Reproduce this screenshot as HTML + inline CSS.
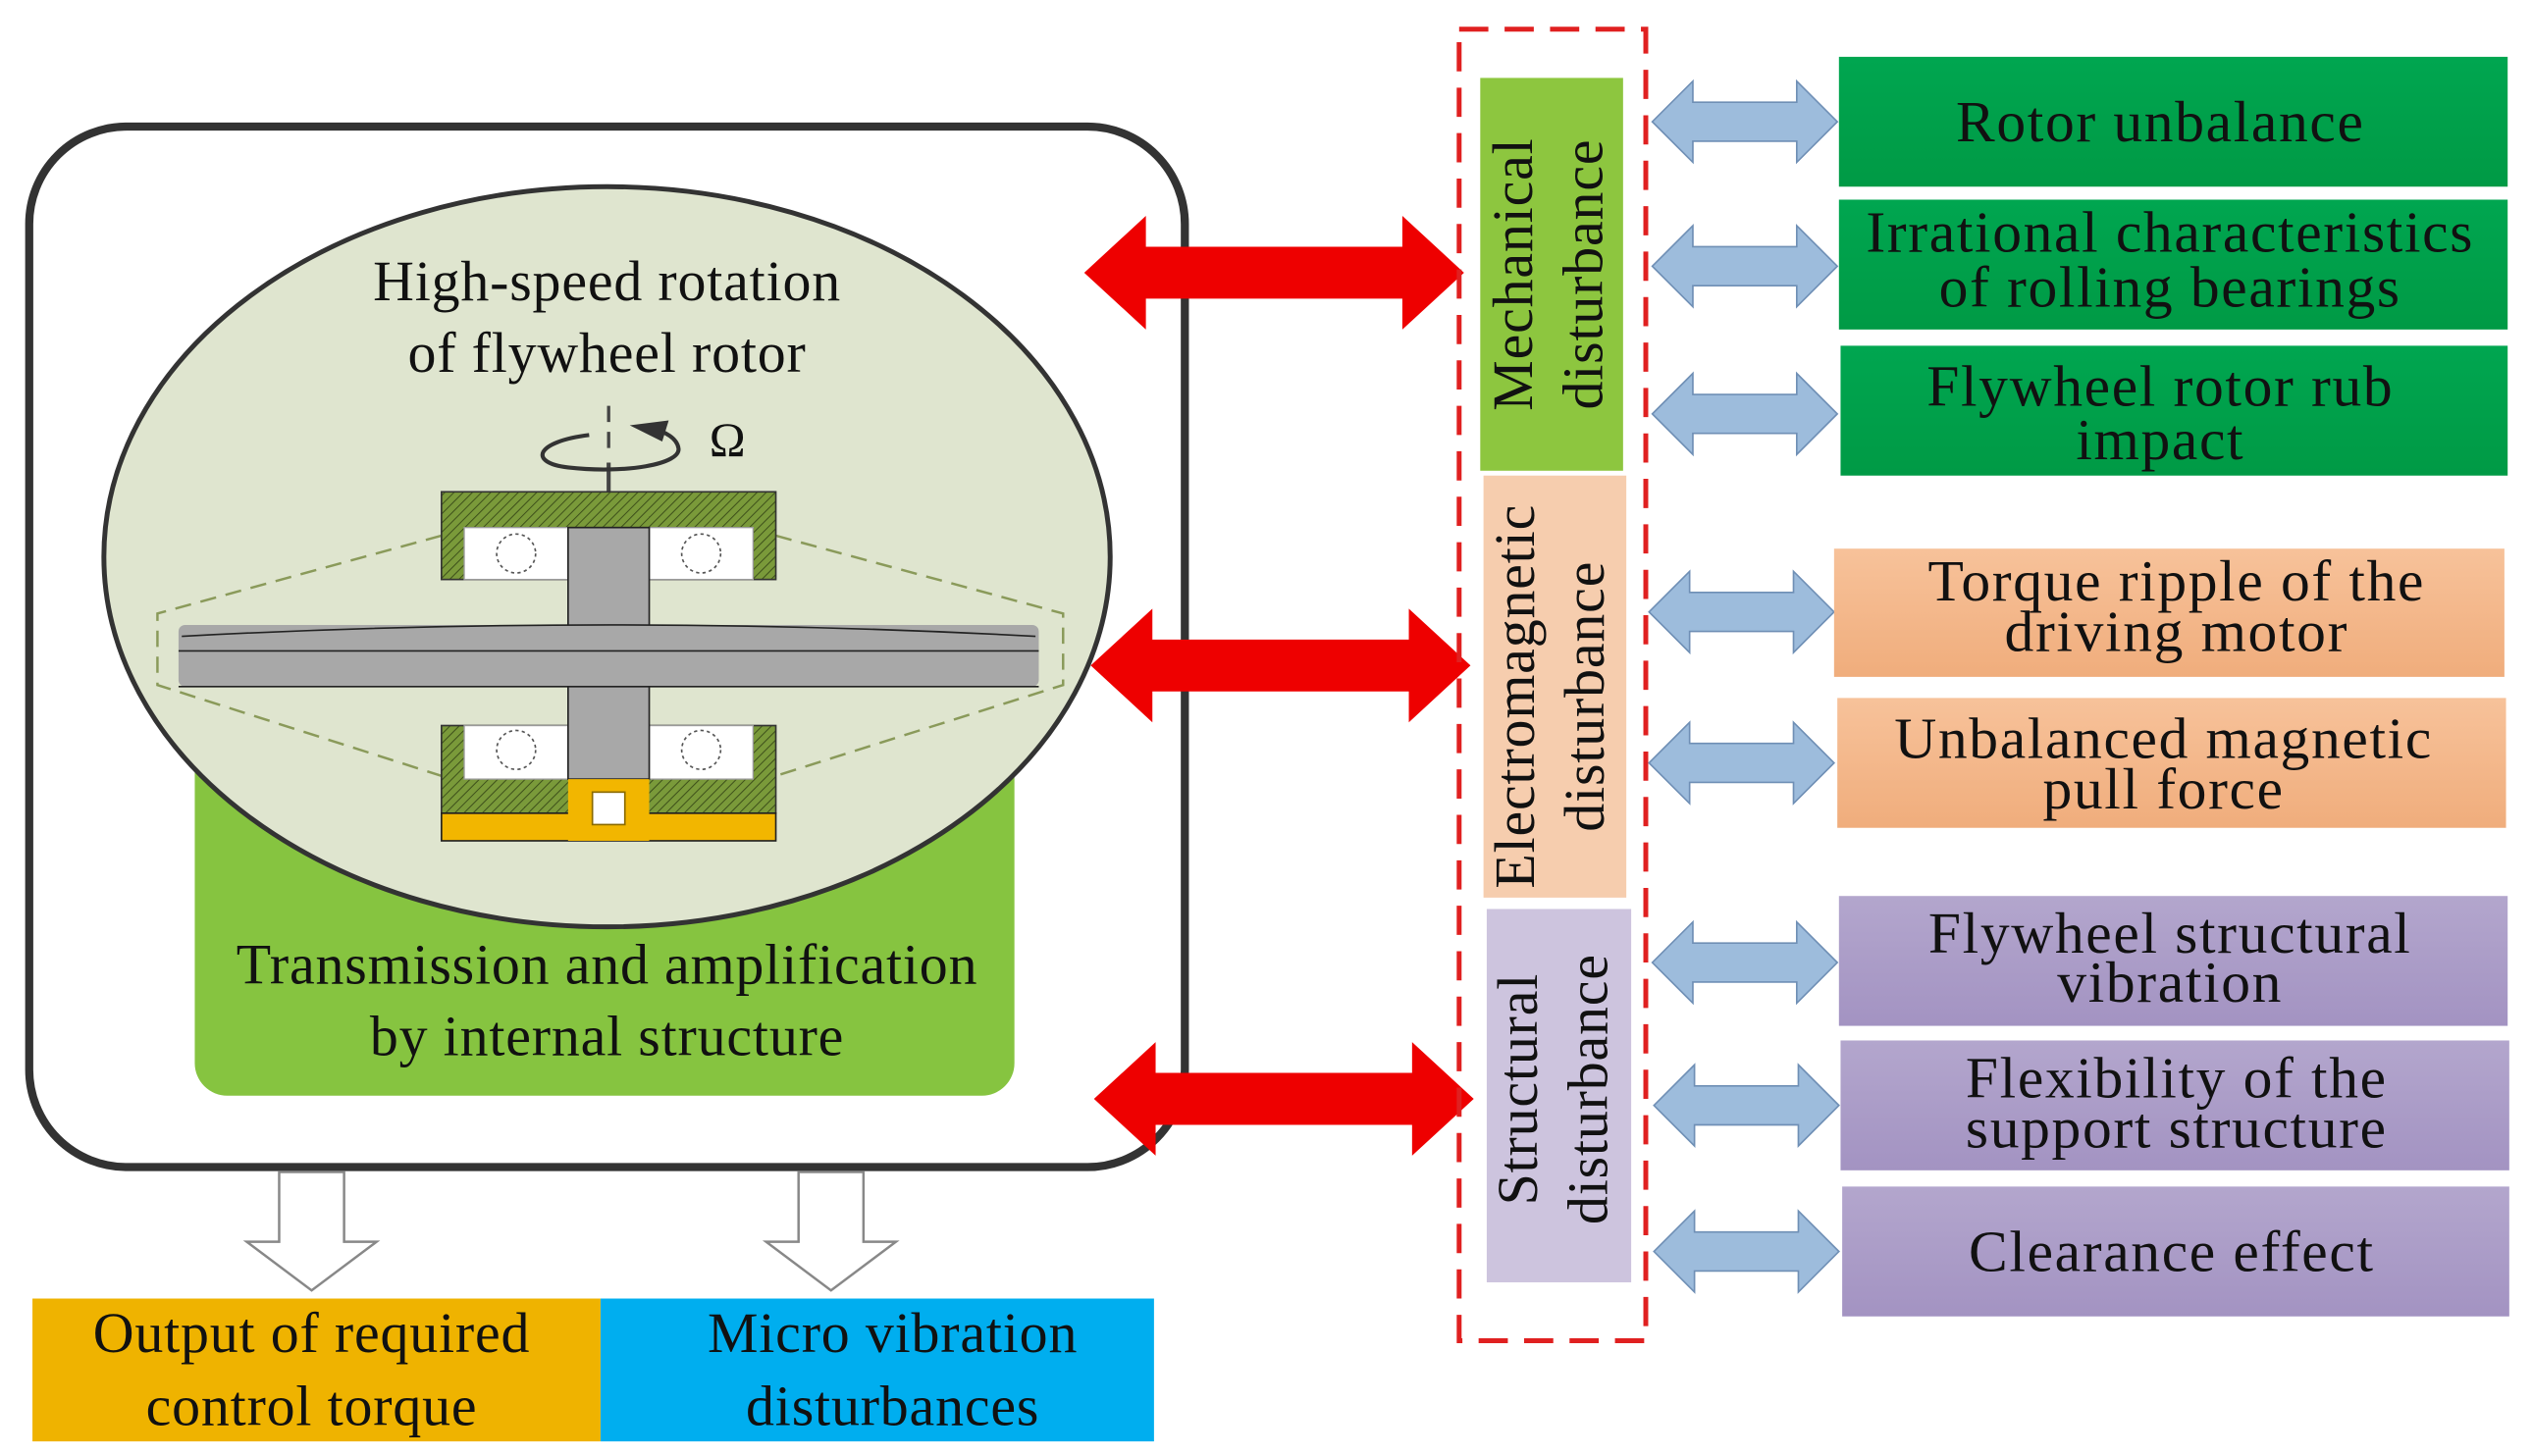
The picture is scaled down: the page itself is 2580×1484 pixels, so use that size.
<!DOCTYPE html>
<html><head><meta charset="utf-8"><style>
html,body{margin:0;padding:0;background:#fff;}
svg{display:block;}
text{font-family:"Liberation Serif","DejaVu Serif",serif;fill:#111;}
</style></head><body>
<svg width="2580" height="1484" viewBox="0 0 1560 897" preserveAspectRatio="none" xmlns="http://www.w3.org/2000/svg" font-family="Liberation Serif, serif">
<defs>
<pattern id="hatch" width="4" height="4" patternUnits="userSpaceOnUse" patternTransform="rotate(45)">
<rect width="4" height="4" fill="#7a9a3a"/><line x1="0" y1="0" x2="0" y2="4" stroke="#3d4f1a" stroke-width="1.2"/>
</pattern>
<linearGradient id="gg" x1="0" y1="0" x2="0" y2="1"><stop offset="0" stop-color="#00a650"/><stop offset="1" stop-color="#009a45"/></linearGradient>
<linearGradient id="og" x1="0" y1="0" x2="0" y2="1"><stop offset="0" stop-color="#f7c29a"/><stop offset="1" stop-color="#f0ad7c"/></linearGradient>
<linearGradient id="pg" x1="0" y1="0" x2="0" y2="1"><stop offset="0" stop-color="#b3a6cd"/><stop offset="1" stop-color="#a393c2"/></linearGradient>
<g id="barr"><path d="M0,0 L25,-25 L25,-12 L89,-12 L89,-25 L114,0 L89,25 L89,12 L25,12 L25,25 Z" fill="#9dbcdc" stroke="#6f8fb5" stroke-width="1"/></g>
<g id="rarr"><path d="M0,0 L38,-35 L38,-16 L196,-16 L196,-35 L234,0 L196,35 L196,16 L38,16 L38,35 Z" fill="#ee0000"/></g>
</defs>

<rect x="18" y="78" width="712" height="641" rx="60" fill="#fff" stroke="#333" stroke-width="5"/>
<rect x="120" y="420" width="505" height="255" rx="20" fill="#86c440"/>
<text x="374" y="606" font-size="35" text-anchor="middle" letter-spacing="0.5">Transmission and amplification</text>
<text x="374" y="650" font-size="35" text-anchor="middle" letter-spacing="0.5">by internal structure</text>
<ellipse cx="374" cy="343" rx="310" ry="228" fill="#dfe5cf" stroke="#333" stroke-width="3"/>
<text x="374" y="185" font-size="35" text-anchor="middle" letter-spacing="0.5">High-speed rotation</text>
<text x="374" y="229" font-size="35" text-anchor="middle" letter-spacing="0.5">of flywheel rotor</text>
<line x1="375" y1="250" x2="375" y2="278" stroke="#444" stroke-width="2" stroke-dasharray="10,6"/>
<line x1="375" y1="285" x2="375" y2="303" stroke="#444" stroke-width="2.5"/>
<path d="M363,268 C330,272 325,285 350,288 C385,292 420,286 418,276 C417,270 410,266 402,264" fill="none" stroke="#333" stroke-width="2.5"/>
<path d="M388,262 L412,259 L408,272 Z" fill="#333"/>
<text x="437" y="281" font-size="30">Ω</text>
<g stroke="#8a9a5a" stroke-width="1.5" stroke-dasharray="10,6" fill="none">
<polyline points="272,330 97,378 97,422 272,478"/>
<polyline points="478,330 655,378 655,422 478,478"/>
</g>
<rect x="272" y="303" width="206" height="54" fill="url(#hatch)" stroke="#333" stroke-width="1"/>
<rect x="286" y="325" width="64" height="32" fill="#fff" stroke="#999" stroke-width="0.8"/>
<rect x="400" y="325" width="64" height="32" fill="#fff" stroke="#999" stroke-width="0.8"/>
<circle cx="318" cy="341" r="12" fill="#fff" stroke="#555" stroke-dasharray="2,2"/>
<circle cx="432" cy="341" r="12" fill="#fff" stroke="#555" stroke-dasharray="2,2"/>
<rect x="350" y="325" width="50" height="66" fill="#a8a8a8" stroke="#222" stroke-width="1"/>
<!-- disk -->
<rect x="110" y="385" width="530" height="38" rx="4" fill="#a8a8a8"/>
<path d="M112,392 Q375,378 638,392" fill="none" stroke="#222" stroke-width="1"/>
<line x1="110" y1="401" x2="640" y2="401" stroke="#222" stroke-width="1"/>
<line x1="110" y1="423" x2="640" y2="423" stroke="#222" stroke-width="1"/>
<rect x="272" y="447" width="206" height="54" fill="url(#hatch)" stroke="#333" stroke-width="1"/>
<rect x="286" y="447" width="64" height="33" fill="#fff" stroke="#999" stroke-width="0.8"/>
<rect x="400" y="447" width="64" height="33" fill="#fff" stroke="#999" stroke-width="0.8"/>
<circle cx="318" cy="462" r="12" fill="#fff" stroke="#555" stroke-dasharray="2,2"/>
<circle cx="432" cy="462" r="12" fill="#fff" stroke="#555" stroke-dasharray="2,2"/>
<rect x="350" y="423" width="50" height="57" fill="#a8a8a8" stroke="#222" stroke-width="1"/>
<rect x="272" y="501" width="206" height="17" fill="#f2b600" stroke="#222" stroke-width="1"/>
<rect x="350" y="480" width="50" height="38" fill="#f2b600"/>
<rect x="365" y="488" width="20" height="20" fill="#fff" stroke="#8a6a00"/>

<path d="M172,722 L212,722 L212,765 L232,765 L192,795 L152,765 L172,765 Z" fill="#fff" stroke="#888" stroke-width="1.5"/>
<path d="M492,722 L532,722 L532,765 L552,765 L512,795 L472,765 L492,765 Z" fill="#fff" stroke="#888" stroke-width="1.5"/>
<rect x="20" y="800" width="350" height="88" fill="#efb300"/>
<rect x="370" y="800" width="341" height="88" fill="#00aeef"/>
<text x="192" y="833" font-size="35" text-anchor="middle" letter-spacing="0.5">Output of required</text>
<text x="192" y="878" font-size="35" text-anchor="middle" letter-spacing="0.5">control torque</text>
<text x="550" y="833" font-size="35" text-anchor="middle" letter-spacing="0.5">Micro vibration</text>
<text x="550" y="878" font-size="35" text-anchor="middle" letter-spacing="0.5">disturbances</text>

<use href="#rarr" x="668" y="168"/>
<use href="#rarr" x="672" y="410"/>
<use href="#rarr" x="674" y="677"/>

<rect x="912" y="48" width="88" height="242" fill="#8dc63f"/>
<rect x="914" y="293" width="88" height="260" fill="#f6cdae"/>
<rect x="916" y="560" width="89" height="230" fill="#cdc4de"/>
<g font-size="35" letter-spacing="0.5">
<text transform="translate(944,169) rotate(-90)" text-anchor="middle">Mechanical</text>
<text transform="translate(987,169) rotate(-90)" text-anchor="middle">disturbance</text>
<text transform="translate(945,429) rotate(-90)" text-anchor="middle">Electromagnetic</text>
<text transform="translate(988,429) rotate(-90)" text-anchor="middle">disturbance</text>
<text transform="translate(947,671) rotate(-90)" text-anchor="middle">Structural</text>
<text transform="translate(990,671) rotate(-90)" text-anchor="middle">disturbance</text>
</g>
<rect x="899" y="18" width="115" height="808" fill="none" stroke="#e02020" stroke-width="3" stroke-dasharray="18,10"/>

<use href="#barr" x="1018" y="75"/>
<use href="#barr" x="1018" y="164"/>
<use href="#barr" x="1018" y="255"/>
<use href="#barr" x="1016" y="377"/>
<use href="#barr" x="1016" y="470"/>
<use href="#barr" x="1018" y="593"/>
<use href="#barr" x="1019" y="681"/>
<use href="#barr" x="1019" y="771"/>

<rect x="1133" y="35" width="412" height="80" fill="url(#gg)"/>
<rect x="1133" y="123" width="412" height="80" fill="url(#gg)"/>
<rect x="1134" y="213" width="411" height="80" fill="url(#gg)"/>
<rect x="1130" y="338" width="413" height="79" fill="url(#og)"/>
<rect x="1132" y="430" width="412" height="80" fill="url(#og)"/>
<rect x="1133" y="552" width="412" height="80" fill="url(#pg)"/>
<rect x="1134" y="641" width="412" height="80" fill="url(#pg)"/>
<rect x="1135" y="731" width="411" height="80" fill="url(#pg)"/>
<g font-size="36" text-anchor="middle" letter-spacing="1">
<text x="1331" y="87">Rotor unbalance</text>
<text x="1337" y="155">Irrational characteristics</text>
<text x="1337" y="189">of rolling bearings</text>
<text x="1331" y="250">Flywheel rotor rub</text>
<text x="1331" y="283">impact</text>
<text x="1341" y="370">Torque ripple of the</text>
<text x="1341" y="401">driving motor</text>
<text x="1333" y="467">Unbalanced magnetic</text>
<text x="1333" y="498">pull force</text>
<text x="1337" y="587">Flywheel structural</text>
<text x="1337" y="617">vibration</text>
<text x="1341" y="676">Flexibility of the</text>
<text x="1341" y="707">support structure</text>
<text x="1338" y="783">Clearance effect</text>
</g>
</svg>
</body></html>
